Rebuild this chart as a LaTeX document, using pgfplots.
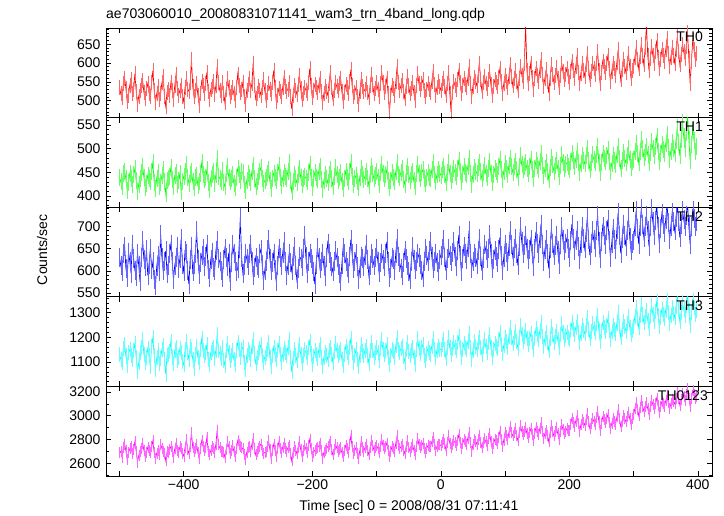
\documentclass[border=0pt]{standalone}
\usepackage{fontspec}
\setmainfont{Liberation Sans}
\usepackage{pgfplots}
\usepackage{pgfplotstable}
\pgfplotsset{compat=1.18}
\pgfplotstableread{
x a b c d e
-500 535 440 630 1130 2690
-498 518 430 612 1112 2700
-496 508 421 598 1098 2650
-494 545 448 640 1155 2735
-492 560 452 655 1170 2760
-490 532 436 605 1125 2705
-488 498 412 585 1085 2630
-486 515 428 642 1140 2690
-484 541 447 622 1150 2720
-482 556 438 595 1128 2745
-480 519 425 660 1110 2680
-478 530 445 628 1145 2715
-476 572 458 601 1175 2780
-474 525 432 588 1118 2700
-472 490 409 640 1060 2610
-470 512 425 612 1098 2665
-468 528 438 575 1140 2700
-466 540 450 630 1160 2725
-464 553 462 668 1190 2770
-462 522 440 625 1132 2710
-460 505 418 610 1100 2660
-458 532 426 648 1120 2690
-456 545 444 590 1155 2735
-454 520 438 615 1125 2705
-452 512 430 650 1080 2690
-450 548 452 602 1165 2740
-448 580 471 620 1200 2790
-446 528 429 580 1128 2690
-444 495 415 568 1070 2640
-442 518 438 610 1118 2685
-440 537 449 635 1145 2710
-438 502 421 598 1095 2675
-436 520 428 682 1115 2760
-434 548 443 630 1152 2725
-432 563 455 600 1168 2700
-430 510 430 620 1110 2680
-428 485 405 645 1050 2620
-426 522 432 595 1128 2695
-424 530 436 612 1130 2690
-422 515 442 640 1142 2715
-420 548 460 660 1185 2740
-418 528 434 622 1120 2700
-416 502 420 580 1095 2650
-414 540 443 612 1148 2720
-412 570 450 630 1160 2770
-410 532 425 655 1108 2705
-408 515 432 605 1120 2690
-406 528 448 628 1155 2740
-404 540 410 672 1140 2720
-402 512 430 615 1102 2680
-400 497 441 598 1088 2660
-398 535 452 645 1150 2735
-396 558 466 640 1182 2800
-394 530 440 600 1140 2715
-392 525 427 570 1110 2680
-390 548 446 625 1162 2745
-388 610 452 655 1150 2860
-386 538 430 598 1112 2730
-384 510 418 615 1075 2700
-382 526 440 640 1130 2720
-380 545 444 690 1165 2760
-378 515 422 625 1118 2690
-376 488 430 592 1100 2640
-374 520 448 618 1150 2720
-372 552 470 635 1195 2790
-370 540 446 650 1148 2745
-368 520 435 610 1125 2710
-366 545 440 632 1140 2735
-364 575 455 660 1170 2820
-362 525 428 602 1110 2700
-360 503 414 585 1090 2670
-358 530 438 625 1138 2705
-356 538 446 642 1150 2740
-354 550 452 608 1160 2725
-352 516 426 600 1115 2690
-350 540 445 645 1148 2760
-348 590 480 668 1210 2880
-346 548 442 628 1145 2755
-344 528 438 620 1135 2730
-342 515 430 600 1115 2700
-340 547 453 585 1160 2700
-338 520 428 625 1108 2690
-336 495 420 650 1085 2650
-334 530 448 630 1145 2715
-332 560 462 610 1175 2780
-330 535 440 640 1140 2740
-328 512 430 575 1105 2680
-326 522 438 618 1128 2705
-324 535 445 660 1145 2750
-322 518 426 640 1110 2700
-320 500 417 620 1090 2660
-318 536 440 598 1145 2720
-316 570 458 605 1180 2790
-314 540 446 650 1150 2760
-312 522 433 720 1120 2740
-310 530 452 630 1152 2735
-308 548 450 595 1160 2720
-306 510 425 612 1100 2670
-304 490 412 640 1070 2630
-302 528 432 628 1125 2690
-300 543 447 612 1150 2730
-298 560 440 640 1138 2745
-296 527 428 660 1110 2700
-294 545 452 622 1162 2760
-292 600 465 590 1190 2810
-290 540 438 608 1135 2725
-288 505 420 630 1095 2670
-286 520 430 612 1120 2695
-284 538 442 605 1140 2720
-282 528 452 638 1155 2745
-280 515 460 648 1170 2760
-278 535 438 615 1125 2710
-276 555 426 578 1100 2680
-274 528 432 600 1118 2690
-272 500 440 622 1135 2700
-270 522 448 648 1150 2740
-268 545 455 670 1180 2790
-266 530 432 628 1120 2715
-264 520 415 600 1080 2640
-262 548 436 618 1128 2705
-260 580 448 640 1160 2760
-258 535 440 602 1130 2710
-256 498 432 575 1110 2660
-254 515 450 612 1145 2720
-252 532 464 650 1175 2780
-250 525 440 630 1132 2725
-248 510 422 612 1100 2690
-246 535 438 640 1130 2735
-244 562 450 665 1155 2770
-242 538 442 620 1140 2720
-240 525 436 590 1125 2700
-238 530 452 612 1160 2730
-236 547 470 638 1190 2750
-234 510 432 618 1118 2680
-232 478 410 600 1060 2620
-230 515 430 632 1115 2690
-228 540 445 655 1150 2740
-226 528 436 612 1128 2710
-224 517 428 580 1105 2680
-222 542 446 605 1145 2735
-220 568 458 632 1172 2780
-218 532 440 628 1130 2715
-216 503 424 610 1095 2660
-214 520 436 650 1125 2705
-212 536 442 680 1150 2750
-210 528 438 632 1138 2720
-208 520 431 595 1120 2690
-206 548 450 620 1160 2750
-204 585 466 640 1185 2800
-202 540 440 628 1135 2720
-200 508 419 615 1090 2660
-198 528 436 598 1122 2690
-196 543 450 570 1145 2710
-194 535 440 615 1130 2725
-192 522 435 652 1115 2730
-190 540 452 630 1148 2745
-188 560 462 605 1170 2770
-186 525 435 620 1120 2705
-184 494 414 640 1080 2640
-182 518 432 612 1118 2690
-180 537 446 588 1140 2710
-178 525 437 630 1125 2720
-176 515 428 662 1110 2740
-174 545 445 640 1145 2755
-172 575 455 620 1160 2780
-170 535 436 610 1130 2715
-168 505 421 598 1100 2670
-166 528 442 622 1142 2715
-164 548 460 645 1175 2760
-162 538 445 630 1148 2730
-160 526 433 612 1125 2700
-158 545 440 595 1138 2715
-156 560 449 575 1150 2730
-154 525 430 615 1112 2690
-152 498 416 652 1085 2660
-150 522 436 638 1130 2705
-148 542 452 620 1165 2750
-146 535 440 608 1138 2720
-144 520 430 595 1120 2690
-142 550 452 632 1160 2760
-140 582 470 670 1195 2830
-138 540 442 638 1140 2740
-136 510 425 605 1100 2680
-134 522 436 620 1128 2705
-132 535 444 640 1150 2730
-130 512 430 610 1110 2685
-128 490 418 580 1080 2640
-126 525 440 605 1128 2710
-124 555 458 632 1170 2780
-122 538 445 628 1142 2735
-120 524 434 610 1125 2700
-118 530 442 635 1148 2730
-116 545 451 660 1165 2760
-114 522 436 625 1125 2710
-112 508 422 590 1095 2670
-110 540 445 612 1145 2735
-108 570 462 638 1180 2790
-106 542 448 628 1148 2750
-104 518 436 612 1120 2710
-102 532 444 630 1140 2730
-100 548 452 650 1160 2750
-98 530 440 622 1138 2725
-96 512 425 596 1105 2690
-94 545 450 618 1155 2745
-92 575 466 640 1190 2800
-90 548 448 625 1150 2750
-88 522 437 610 1130 2720
-86 538 445 640 1148 2740
-84 560 455 665 1170 2770
-82 518 432 620 1118 2710
-80 470 418 585 1090 2660
-78 515 432 605 1125 2700
-76 540 449 630 1150 2740
-74 532 440 625 1142 2725
-72 515 430 600 1120 2700
-70 550 452 640 1168 2770
-68 590 470 672 1200 2830
-66 548 446 632 1150 2750
-64 528 440 618 1140 2720
-62 540 450 605 1155 2740
-60 553 458 590 1165 2760
-58 525 435 618 1122 2710
-56 505 424 645 1100 2680
-54 538 448 628 1150 2740
-52 565 463 612 1180 2790
-50 540 445 598 1142 2735
-48 518 433 580 1125 2700
-46 532 445 620 1145 2730
-44 548 452 655 1160 2760
-42 522 432 625 1120 2710
-40 500 420 602 1090 2670
-38 540 448 622 1150 2745
-36 572 467 640 1195 2810
-34 545 448 630 1155 2755
-32 530 438 615 1135 2730
-30 545 450 600 1158 2750
-28 555 455 585 1170 2770
-26 528 436 620 1128 2720
-24 510 426 650 1105 2690
-22 530 440 635 1135 2725
-20 545 450 620 1155 2750
-18 530 440 645 1140 2740
-16 522 436 665 1130 2740
-14 550 455 632 1165 2780
-12 578 470 605 1195 2820
-10 542 446 622 1150 2760
-8 515 431 640 1120 2710
-6 535 445 618 1148 2740
-4 550 455 598 1165 2760
-2 538 448 625 1152 2755
0 528 444 635 1150 2750
2 545 455 650 1172 2775
4 560 462 670 1190 2800
6 538 445 630 1150 2765
8 515 428 600 1115 2710
10 545 450 628 1160 2775
12 575 470 650 1200 2830
14 520 448 635 1158 2770
16 470 432 620 1130 2730
18 522 445 642 1155 2760
20 552 458 665 1180 2790
22 540 450 632 1160 2775
24 530 441 610 1145 2750
26 555 458 645 1178 2795
28 580 475 680 1205 2840
30 548 452 635 1160 2775
32 520 430 598 1120 2720
34 540 446 628 1150 2765
36 558 462 655 1175 2800
38 542 450 640 1160 2780
40 535 446 625 1150 2760
42 560 462 652 1182 2810
44 590 480 690 1215 2860
46 545 448 638 1158 2775
48 510 425 605 1110 2700
50 538 445 622 1148 2755
52 562 460 640 1185 2800
54 550 452 630 1165 2785
56 540 448 615 1150 2760
58 568 460 645 1178 2800
60 600 470 672 1200 2830
62 555 452 632 1160 2775
64 525 436 600 1130 2730
66 548 450 628 1162 2775
68 565 465 660 1190 2810
70 545 448 645 1162 2780
72 532 440 628 1140 2750
74 555 458 650 1180 2805
76 578 472 682 1210 2850
78 542 448 640 1160 2780
80 515 429 605 1120 2720
82 538 445 625 1152 2765
84 555 458 645 1175 2800
86 548 452 632 1165 2790
88 538 445 618 1155 2770
90 562 462 648 1190 2820
92 585 478 675 1220 2870
94 550 455 635 1170 2800
96 520 435 600 1135 2740
98 545 452 630 1168 2795
100 568 468 660 1200 2860
102 550 458 642 1182 2835
104 535 445 620 1160 2800
106 565 465 655 1205 2860
108 595 480 690 1240 2910
110 565 462 660 1200 2855
112 540 450 632 1175 2830
114 560 462 650 1200 2855
116 580 472 672 1225 2890
118 552 455 640 1185 2830
120 528 440 612 1155 2790
122 560 462 655 1200 2855
124 590 485 700 1250 2920
126 568 466 665 1210 2870
128 550 455 640 1185 2840
130 600 462 658 1205 2870
132 700 470 680 1230 2900
134 580 458 650 1195 2850
136 545 448 625 1170 2820
138 572 462 648 1195 2860
140 600 478 670 1215 2890
142 562 455 640 1180 2840
144 530 438 610 1150 2790
146 558 458 650 1195 2850
148 585 474 688 1235 2900
150 568 464 662 1210 2870
152 552 455 640 1190 2840
154 580 472 672 1225 2890
156 610 490 705 1260 2940
158 570 465 660 1205 2870
160 538 444 622 1165 2810
162 560 458 648 1195 2850
164 582 470 670 1220 2880
166 552 452 638 1180 2830
168 520 435 605 1145 2780
170 560 460 650 1195 2855
172 595 482 695 1245 2920
174 570 466 662 1210 2870
176 548 452 635 1180 2830
178 568 464 658 1205 2865
180 588 475 680 1225 2900
182 560 458 645 1190 2850
184 535 442 615 1160 2800
186 568 465 660 1210 2870
188 600 488 700 1255 2930
190 578 470 670 1220 2885
192 555 458 645 1190 2850
194 570 466 662 1208 2870
196 585 470 672 1220 2890
198 565 462 650 1200 2875
200 548 455 630 1190 2880
202 578 472 668 1228 2930
204 605 490 705 1260 2980
206 580 475 672 1232 2945
208 560 462 645 1210 2910
210 590 478 668 1240 2955
212 620 495 690 1265 3000
214 575 470 655 1220 2935
216 545 450 625 1180 2870
218 572 468 662 1215 2925
220 598 485 700 1250 2970
222 580 475 672 1230 2945
224 565 468 650 1215 2920
226 595 485 685 1248 2970
228 625 500 720 1280 3020
230 585 475 670 1232 2950
232 555 455 635 1195 2890
234 578 470 662 1225 2935
236 600 488 690 1255 2980
238 585 478 670 1235 2955
240 570 470 652 1220 2930
242 600 488 690 1255 2985
244 630 505 725 1290 3040
246 580 470 665 1228 2950
248 545 450 628 1185 2880
250 575 470 665 1222 2935
252 605 490 700 1260 2990
254 590 480 680 1242 2965
256 575 472 660 1225 2940
258 598 485 690 1250 2975
260 620 498 715 1275 3010
262 585 472 668 1230 2945
264 550 452 630 1190 2890
266 578 468 662 1222 2935
268 600 485 695 1250 2980
270 585 475 670 1232 2955
272 568 466 648 1215 2930
274 602 488 692 1258 2990
276 635 505 730 1300 3050
278 592 480 680 1245 2975
280 555 458 640 1200 2910
282 582 475 672 1232 2955
284 610 492 705 1265 3000
286 592 480 680 1245 2975
288 575 470 655 1225 2950
290 600 485 690 1255 2990
292 625 500 720 1285 3030
294 590 478 675 1240 2975
296 560 460 645 1210 2930
298 580 472 662 1230 2975
300 590 478 668 1245 3010
302 615 495 700 1285 3060
304 640 510 735 1320 3110
306 610 490 695 1275 3050
308 585 470 660 1240 3000
310 618 495 700 1290 3070
312 650 520 740 1335 3130
314 620 500 705 1295 3080
316 595 482 675 1260 3040
318 640 492 700 1285 3075
320 700 505 725 1310 3110
322 620 488 690 1270 3060
324 580 470 655 1235 3010
326 612 492 700 1285 3075
328 645 515 740 1330 3130
330 620 500 710 1295 3095
332 600 485 680 1265 3060
334 630 505 712 1305 3105
336 660 525 750 1345 3150
338 615 495 700 1290 3085
340 585 472 662 1245 3030
342 610 490 695 1280 3075
344 635 508 728 1315 3120
346 620 498 705 1295 3100
348 605 490 685 1275 3080
350 635 510 715 1310 3125
352 665 530 750 1350 3170
354 625 502 708 1300 3110
356 590 478 670 1255 3060
358 615 495 700 1290 3100
360 640 512 730 1320 3140
362 620 500 710 1298 3120
364 600 490 690 1280 3100
366 635 518 720 1325 3150
368 670 545 750 1370 3200
370 630 512 710 1315 3145
372 595 485 675 1265 3090
374 622 520 705 1300 3140
376 650 555 735 1340 3190
378 630 525 715 1315 3160
380 612 500 700 1290 3130
382 645 535 725 1330 3180
384 680 570 750 1375 3230
386 612 520 700 1310 3150
388 545 475 660 1250 3080
390 605 508 700 1300 3145
392 660 540 735 1350 3210
394 635 518 718 1322 3180
396 610 495 700 1295 3150
398 625 505 710 1310 3165
}\data
\pgfplotsset{
  panel/.style={
    width=606pt, height=89.6pt, scale only axis,
    xmin=-521, xmax=422,
    xtick={-500,-400,...,400}, xticklabels={},
    tick align=inside,
    major tick length=5pt, minor tick length=2.8pt,
    axis line style={line width=0.8pt},
    every tick/.style={black, line width=0.6pt},
    /pgf/number format/assume math mode=true,
    /pgf/number format/1000 sep={},
    scaled ticks=false,
    tick label style={font=\fontsize{14}{16}\selectfont},
    yticklabel style={xshift=-2pt},
    clip=true,
  },
  lc/.style={line width=0.7pt, mark=none},
  eb/.style 2 args={only marks, mark=|, mark size=#1, forget plot,
    mark options={draw=#2, line width=0.4pt}},
}
\definecolor{cR}{RGB}{255,0,0}
\definecolor{cG}{RGB}{0,255,0}
\definecolor{cB}{RGB}{0,0,255}
\definecolor{cC}{RGB}{0,255,255}
\definecolor{cM}{RGB}{255,0,255}
\tikzset{thl/.style={anchor=north east, inner sep=0pt, font=\fontsize{14}{16}\selectfont}}
\begin{document}
\begin{tikzpicture}[x=1pt,y=1pt]
\useasboundingbox (0,0) rectangle (724,516);
% TH0
\begin{axis}[panel, at={(106pt,398.4pt)}, anchor=south west,
  ymin=455, ymax=693, ytick={500,550,600,650}, minor ytick={460,470,...,690}]
\addplot[eb={7.5pt}{cR!60}] table[x=x, y=a] {\data};
\addplot[lc, color=cR] table[x=x, y=a] {\data};
\end{axis}
% TH1
\begin{axis}[panel, at={(106pt,308.8pt)}, anchor=south west,
  ymin=376.4, ymax=565.6, ytick={400,450,500,550}, minor ytick={380,390,...,560}]
\addplot[eb={8.5pt}{cG!60}] table[x=x, y=b] {\data};
\addplot[lc, color=cG] table[x=x, y=b] {\data};
\end{axis}
% TH2
\begin{axis}[panel, at={(106pt,219.2pt)}, anchor=south west,
  ymin=541.6, ymax=743, ytick={550,600,650,700}, minor ytick={550,560,...,740}]
\addplot[eb={9.5pt}{cB!60}] table[x=x, y=c] {\data};
\addplot[lc, color=cB] table[x=x, y=c] {\data};
\end{axis}
% TH3
\begin{axis}[panel, at={(106pt,129.6pt)}, anchor=south west,
  ymin=1001, ymax=1365, ytick={1100,1200,1300}, minor ytick={1020,1040,...,1360}]
\addplot[eb={7.5pt}{cC!60}] table[x=x, y=d] {\data};
\addplot[lc, color=cC] table[x=x, y=d] {\data};
\end{axis}
% TH0123
\begin{axis}[panel, at={(106pt,40pt)}, anchor=south west,
  ymin=2492, ymax=3248, ytick={2600,2800,3000,3200}, minor ytick={2500,2700,...,3100},
  xticklabels={,−400,,−200,,0,,200,,400}]
\addplot[eb={5.5pt}{cM!60}] table[x=x, y=e] {\data};
\addplot[lc, color=cM] table[x=x, y=e] {\data};
\end{axis}
\node[thl] at (703,484) {TH0};
\node[thl] at (703,394.4) {TH1};
\node[thl] at (703,304.8) {TH2};
\node[thl] at (703,215.2) {TH3};
\node[thl] at (708,125.6) {TH0123};
\node[anchor=base west, inner sep=0pt, font=\fontsize{14}{16}\selectfont] at (106,497) {ae703060010\_20080831071141\_wam3\_trn\_4band\_long.qdp};
\node[rotate=90, inner sep=0pt, font=\fontsize{14}{16}\selectfont] at (42,266) {Counts/sec};
\node[anchor=base, inner sep=0pt, font=\fontsize{14}{16}\selectfont] at (409,5) {Time [sec] 0 = 2008/08/31 07:11:41};
\end{tikzpicture}
\end{document}
